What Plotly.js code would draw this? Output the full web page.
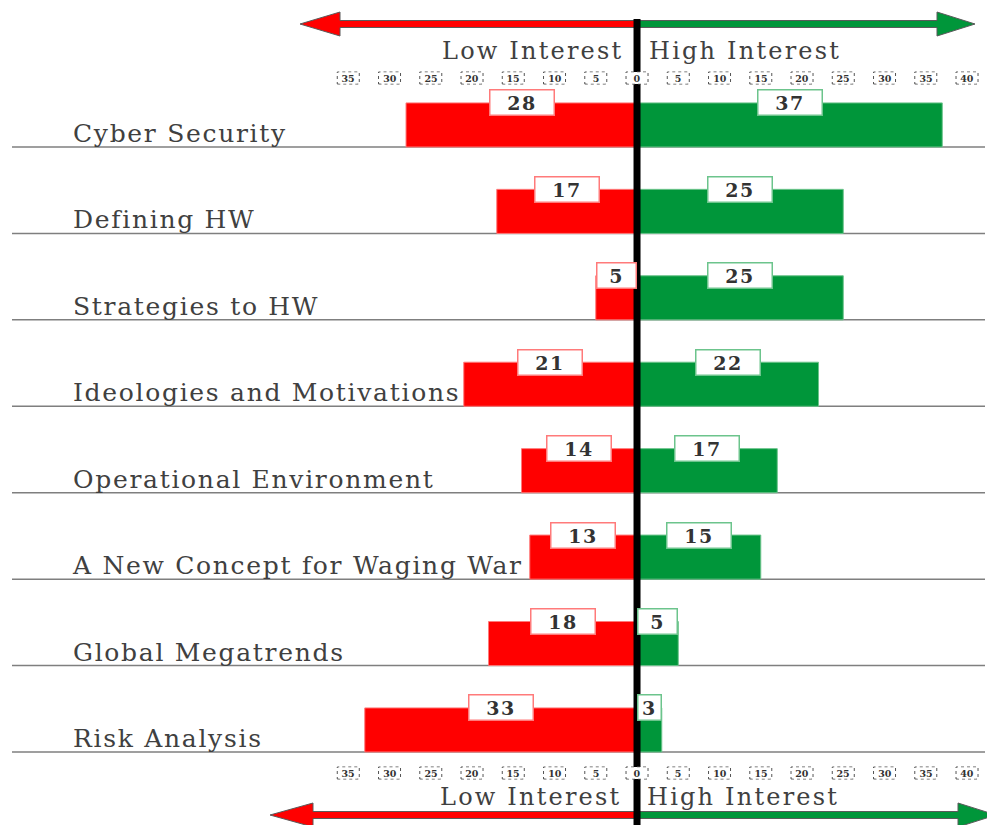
<!DOCTYPE html>
<html>
<head>
<meta charset="utf-8">
<script src="https://cdn.plot.ly/plotly-3.0.1.min.js"></script>
<style>
html,body{margin:0;padding:0;background:#fff;}
/* the reference text is horizontally stretched: widen with letter spacing */
#chart .ytick text{letter-spacing:1.7px;}
#chart g.annotation.side-label text{letter-spacing:2.2px;}
#chart g.annotation.value-label text{letter-spacing:1.5px;}
</style>
</head>
<body>
<div id="chart" style="width:987px;height:825px;"></div>
<script>
// ---------- data ----------
const categories = ['Cyber Security', 'Defining HW', 'Strategies to HW', 'Ideologies and Motivations',
  'Operational Environment', 'A New Concept for Waging War', 'Global Megatrends', 'Risk Analysis'];
const lowInterest = [28, 17, 5, 21, 14, 13, 18, 33];
const highInterest = [37, 25, 25, 22, 17, 15, 5, 3];
const tickValues = [-35, -30, -25, -20, -15, -10, -5, 0, 5, 10, 15, 20, 25, 30, 35, 40];
const tickLabels = ['35', '30', '25', '20', '15', '10', '5', '0', '5', '10', '15', '20', '25', '30', '35', '40'];
const sideLabels = ['Low Interest', 'High Interest'];

// ---------- layout geometry ----------
const W = 987, H = 825;
const M = {l: 12, r: 2, t: 88, b: 65};
const plotW = W - M.l - M.r, plotH = H - M.t - M.b;
const xRange = [-75.76, 42.18];
const yRange = [7.5925, -0.1826];
const pxPerUnit = plotW / (xRange[1] - xRange[0]);
const px = x => (x - M.l) / plotW;            // pixel -> paper x
const py = y => (H - M.b - y) / plotH;        // pixel -> paper y

const RED = '#ff0000', GREEN = '#00963a';
const RED_EDGE = '#ff7a7a', GREEN_EDGE = '#6cc48c';
const idx = categories.map((c, i) => i);

const traces = [
  {
    type: 'bar', orientation: 'h', name: 'Low Interest',
    x: lowInterest.map(v => -v), y: idx,
    width: 0.51, offset: -0.01,
    marker: {color: RED, line: {color: RED_EDGE, width: 1}},
    hoverinfo: 'skip'
  },
  {
    type: 'bar', orientation: 'h', name: 'High Interest',
    x: highInterest, y: idx,
    width: 0.51, offset: -0.01,
    marker: {color: GREEN, line: {color: GREEN_EDGE, width: 1}},
    hoverinfo: 'skip'
  }
];

// ---------- annotations ----------
const annotations = [];
const annClass = [];
function valueBox(v, sign, i, edge) {
  const barPx = v * pxPerUnit;
  const w = Math.min(61, barPx - 5);
  return {
    x: sign * v / 2, y: i - 0.01, xref: 'x', yref: 'y',
    text: '<b>' + v + '</b>', showarrow: false,
    font: {family: 'DejaVu Serif', size: 19, color: '#333333'},
    bgcolor: '#ffffff', bordercolor: edge, borderwidth: 1.5, borderpad: 1,
    width: w, height: 22, align: 'center', valign: 'middle'
  };
}
lowInterest.forEach((v, i) => { annotations.push(valueBox(v, -1, i, RED_EDGE)); annClass.push('value-label'); });
highInterest.forEach((v, i) => { annotations.push(valueBox(v, 1, i, GREEN_EDGE)); annClass.push('value-label'); });

// Low / High Interest headings (top and bottom)
[[51, 441], [797, 439]].forEach(([yPx, xLow]) => {
  annotations.push({
    x: px(xLow), y: py(yPx), xref: 'paper', yref: 'paper', xanchor: 'left', yanchor: 'middle',
    align: 'left', text: sideLabels[0], showarrow: false, borderpad: 0,
    font: {family: 'DejaVu Serif', size: 24, color: '#404040'}
  });
  annClass.push('side-label');
  annotations.push({
    x: px(xLow + 207), y: py(yPx), xref: 'paper', yref: 'paper', xanchor: 'left', yanchor: 'middle',
    align: 'left', text: sideLabels[1], showarrow: false, borderpad: 0,
    font: {family: 'DejaVu Serif', size: 24, color: '#404040'}
  });
  annClass.push('side-label');
});

// axis tick labels (top and bottom), placed on the x scale
const tickRows = [78, 773];
tickRows.forEach(yPx => {
  tickValues.forEach((v, k) => {
    annotations.push({
      x: v, xref: 'x', y: py(yPx), yref: 'paper', xanchor: 'center', yanchor: 'middle',
      text: '<b>' + tickLabels[k] + '</b>', showarrow: false,
      font: {family: 'DejaVu Serif', size: 9.5, color: '#333333'},
      bgcolor: '#ffffff', borderpad: 0, width: 18, height: 10
    });
    annClass.push('tick-label');
  });
});

// ---------- shapes ----------
const shapes = [];
// row separators
idx.forEach(i => shapes.push({
  type: 'line', xref: 'paper', yref: 'y', x0: 0, x1: 1, y0: i + 0.5, y1: i + 0.5,
  line: {color: '#7f7f7f', width: 1.5}, layer: 'below'
}));
// arrows
function arrowPath(tipX, baseX, endX, cy, shaft, head) {
  const pts = [[tipX, cy], [baseX, cy - head], [baseX, cy - shaft], [endX, cy - shaft],
               [endX, cy + shaft], [baseX, cy + shaft], [baseX, cy + head]];
  return 'M' + pts.map(p => px(p[0]) + ',' + py(p[1])).join('L') + 'Z';
}
const zeroPx = M.l + (0 - xRange[0]) * pxPerUnit;
[[24, 300, 340, 937, 975], [815, 270, 313, 958, 996]].forEach(([cy, lt, lb, rb, rt]) => {
  shapes.push({type: 'path', xref: 'paper', yref: 'paper', path: arrowPath(lt, lb, zeroPx, cy, 3.5, 12),
    fillcolor: RED, line: {color: '#5a5a5a', width: 1}, layer: 'above'});
  shapes.push({type: 'path', xref: 'paper', yref: 'paper', path: arrowPath(rt, rb, zeroPx, cy, 3.5, 12),
    fillcolor: GREEN, line: {color: '#5a5a5a', width: 1}, layer: 'above'});
});
// central zero line
shapes.push({type: 'line', xref: 'x', x0: 0, x1: 0, yref: 'paper', y0: py(830), y1: py(19),
  line: {color: '#000000', width: 7}, layer: 'above'});
// dotted tick boxes (top and bottom)
tickRows.forEach(yPx => {
  tickValues.forEach(v => shapes.push({
    type: 'rect', xref: 'x', xsizemode: 'pixel', xanchor: v, x0: -11, x1: 11,
    yref: 'paper', ysizemode: 'pixel', yanchor: py(yPx), y0: -6, y1: 6,
    line: {color: '#555555', width: 1, dash: 'dot'}, fillcolor: '#ffffff', layer: 'above'
  }));
});

const layout = {
  width: W, height: H, margin: M,
  paper_bgcolor: '#ffffff', plot_bgcolor: '#ffffff',
  showlegend: false, barmode: 'overlay',
  xaxis: {
    range: xRange, showticklabels: false, ticks: '',
    showgrid: false, zeroline: false, showline: false, fixedrange: true
  },
  yaxis: {
    range: yRange, tickmode: 'array', tickvals: idx.map(i => i + 0.34), ticktext: categories,
    ticklabelposition: 'inside', ticklabelstandoff: 58, ticks: '', layer: 'below traces',
    tickfont: {family: 'DejaVu Serif', size: 25, color: '#404040'},
    showgrid: false, zeroline: false, showline: false, fixedrange: true
  },
  annotations: annotations,
  shapes: shapes
};

function tagAnnotations() {
  document.querySelectorAll('#chart g.annotation').forEach(g => {
    const k = +g.getAttribute('data-index');
    if (annClass[k]) g.classList.add(annClass[k]);
  });
}

Plotly.newPlot('chart', traces, layout, {displayModeBar: false, staticPlot: true}).then(tagAnnotations);
</script>
</body>
</html>
